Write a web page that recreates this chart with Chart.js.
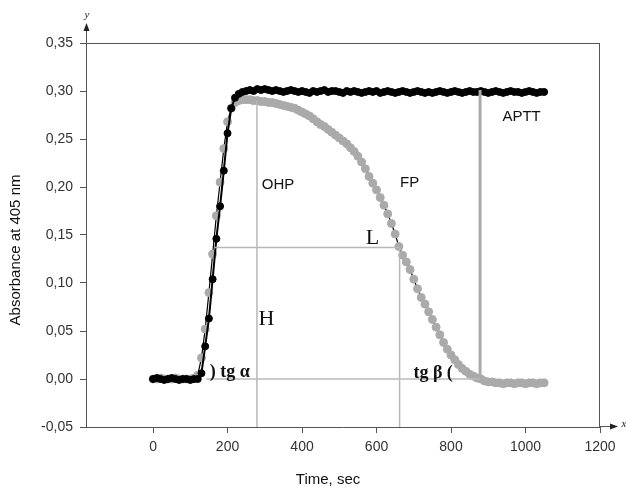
<!DOCTYPE html>
<html>
<head>
<meta charset="utf-8">
<script src="https://cdn.jsdelivr.net/npm/chart.js@4.4.1/dist/chart.umd.min.js"></script>
<style>
  html, body { margin: 0; padding: 0; background: #fff; }
  #chart { display: block; }
</style>
</head>
<body>
<canvas id="chart" width="626" height="488"></canvas>
<script>
// time axis (sec)
const times = [
  0, 10, 20, 30, 40, 50, 60, 70, 80, 90,
  100, 110, 120, 130, 140, 150, 160, 170, 180, 190,
  200, 210, 220, 230, 240, 250, 260, 270, 280, 290,
  300, 310, 320, 330, 340, 350, 360, 370, 380, 390,
  400, 410, 420, 430, 440, 450, 460, 470, 480, 490,
  500, 510, 520, 530, 540, 550, 560, 570, 580, 590,
  600, 610, 620, 630, 640, 650, 660, 670, 680, 690,
  700, 710, 720, 730, 740, 750, 760, 770, 780, 790,
  800, 810, 820, 830, 840, 850, 860, 870, 880, 890,
  900, 910, 920, 930, 940, 950, 960, 970, 980, 990,
  1000, 1010, 1020, 1030, 1040, 1050,
];

// black curve (clotting, APTT)
const apttValues = [
  0.000, 0.001, 0.000, -0.001, 0.000, 0.001, 0.000, -0.001, 0.000, 0.000,
  -0.001, 0.000, 0.000, 0.006, 0.034, 0.063, 0.104, 0.146, 0.180, 0.217,
  0.256, 0.282, 0.293, 0.297, 0.299, 0.300, 0.301, 0.300, 0.302, 0.301,
  0.302, 0.301, 0.300, 0.301, 0.300, 0.299, 0.300, 0.301, 0.300, 0.299,
  0.300, 0.299, 0.298, 0.300, 0.299, 0.300, 0.301, 0.299, 0.300, 0.300,
  0.299, 0.298, 0.300, 0.299, 0.300, 0.299, 0.298, 0.299, 0.300, 0.299,
  0.300, 0.298, 0.299, 0.300, 0.299, 0.298, 0.299, 0.300, 0.299, 0.298,
  0.299, 0.300, 0.299, 0.298, 0.299, 0.298, 0.299, 0.300, 0.299, 0.298,
  0.299, 0.300, 0.299, 0.298, 0.299, 0.300, 0.299, 0.299, 0.300, 0.299,
  0.298, 0.299, 0.300, 0.299, 0.298, 0.299, 0.300, 0.299, 0.299, 0.298,
  0.299, 0.300, 0.299, 0.298, 0.299, 0.299,
];

// grey curve (clotting + fibrinolysis)
const fpValues = [
  0.000, 0.000, 0.001, 0.000, 0.000, 0.000, 0.001, 0.000, 0.000, 0.000,
  0.000, 0.001, 0.004, 0.022, 0.052, 0.090, 0.130, 0.170, 0.205, 0.240,
  0.268, 0.282, 0.288, 0.290, 0.291, 0.291, 0.291, 0.290, 0.290, 0.289,
  0.289, 0.288, 0.288, 0.287, 0.286, 0.285, 0.284, 0.283, 0.282, 0.280,
  0.278, 0.276, 0.274, 0.271, 0.268, 0.265, 0.263, 0.260, 0.257, 0.254,
  0.251, 0.248, 0.245, 0.241, 0.237, 0.232, 0.226, 0.219, 0.211, 0.204,
  0.197, 0.189, 0.181, 0.172, 0.162, 0.151, 0.138, 0.129, 0.122, 0.114,
  0.104, 0.094, 0.085, 0.078, 0.070, 0.062, 0.054, 0.046, 0.038, 0.031,
  0.025, 0.020, 0.015, 0.011, 0.008, 0.005, 0.003, 0.001, 0.000, -0.002,
  -0.003, -0.003, -0.004, -0.004, -0.005, -0.004, -0.004, -0.005, -0.004, -0.004,
  -0.005, -0.004, -0.004, -0.005, -0.004, -0.004,
];

// construction lines: [x0, x1] and [y0, y1]
const ohpLineX = [279, 279];
const ohpLineY = [0.289, -0.05];
const heightLineX = [166, 662];
const heightLineY = [0.137, 0.137];
const fpLineX = [662, 662];
const fpLineY = [0.137, -0.05];
const baseLineX = [143, 878];
const baseLineY = [0, 0];
const apttLineX = [878, 878];
const apttLineY = [0.301, 0];

const xTicks = [0, 200, 400, 600, 800, 1000, 1200];
const yTicks = [-0.05, 0, 0.05, 0.1, 0.15, 0.2, 0.25, 0.3, 0.35];

const noteTexts = ["OHP", "FP", "APTT", "L", "H", ") tg \u03b1", "tg \u03b2 ("];
const noteX = [292, 663, 938, 571, 283, 152, 699];
const noteY = [0.202, 0.204, 0.273, 0.147, 0.062, 0.007, 0.0055];

const sansFont = "'Liberation Sans', Arial, sans-serif";
const serifFont = "'Liberation Serif', 'Times New Roman', serif";
const noteFonts = [
  "15px " + sansFont, "15px " + sansFont, "15px " + sansFont,
  "22px " + serifFont, "22px " + serifFont,
  "bold 18px " + serifFont, "bold 18px " + serifFont,
];

const axisColor = "#555";
const guideColor = "#b8b8b8";

function pairs(xs, ys) {
  return xs.map((x, i) => ({ x: x, y: ys[i] }));
}

function guide(xs, ys, width, color) {
  return {
    data: pairs(xs, ys),
    borderColor: color,
    borderWidth: width,
    pointRadius: 0,
    order: 0,
  };
}

const decorations = {
  id: "decorations",
  afterDatasetsDraw(chart) {
    const ctx = chart.ctx;
    const xs = chart.scales.x;
    const ys = chart.scales.y;
    ctx.save();
    ctx.fillStyle = "#111";
    ctx.textBaseline = "middle";
    ctx.textAlign = "left";
    noteTexts.forEach((text, i) => {
      ctx.font = noteFonts[i];
      ctx.fillText(text, xs.getPixelForValue(noteX[i]), ys.getPixelForValue(noteY[i]));
    });
    ctx.restore();
  },
  afterDraw(chart) {
    const ctx = chart.ctx;
    const area = chart.chartArea;
    ctx.save();
    ctx.strokeStyle = axisColor;
    ctx.fillStyle = "#222";
    ctx.lineWidth = 1;

    // frame top and right
    ctx.beginPath();
    ctx.moveTo(area.left, area.top + 0.5);
    ctx.lineTo(area.right, area.top + 0.5);
    ctx.moveTo(area.right - 0.5, area.top);
    ctx.lineTo(area.right - 0.5, area.bottom);
    ctx.stroke();

    // y arrow
    ctx.beginPath();
    ctx.moveTo(area.left + 0.5, area.top);
    ctx.lineTo(area.left + 0.5, 28);
    ctx.stroke();
    ctx.beginPath();
    ctx.moveTo(area.left + 0.5, 23);
    ctx.lineTo(area.left - 2.5, 31);
    ctx.lineTo(area.left + 3.5, 31);
    ctx.closePath();
    ctx.fill();

    // x arrow
    ctx.beginPath();
    ctx.moveTo(area.right, area.bottom - 0.5);
    ctx.lineTo(612, area.bottom - 0.5);
    ctx.stroke();
    ctx.beginPath();
    ctx.moveTo(618, area.bottom - 0.5);
    ctx.lineTo(610, area.bottom - 3.5);
    ctx.lineTo(610, area.bottom + 2.5);
    ctx.closePath();
    ctx.fill();

    ctx.font = "italic 11px " + serifFont;
    ctx.textAlign = "center";
    ctx.textBaseline = "middle";
    ctx.fillText("y", area.left + 1, 15);
    ctx.fillText("x", 624, area.bottom - 3);

    // axis titles
    ctx.fillStyle = "#111";
    ctx.font = "15px " + sansFont;
    ctx.fillText("Time, sec", 328, 480);
    ctx.translate(16, 250);
    ctx.rotate(-Math.PI / 2);
    ctx.fillText("Absorbance at 405 nm", 0, 0);
    ctx.restore();
  },
};

const axisGrid = {
  display: true,
  drawOnChartArea: false,
  drawTicks: true,
  tickLength: 6,
  color: axisColor,
};

new Chart(document.getElementById("chart"), {
  type: "line",
  data: {
    datasets: [
      guide(ohpLineX, ohpLineY, 1.5, guideColor),
      guide(heightLineX, heightLineY, 1.5, guideColor),
      guide(fpLineX, fpLineY, 1.5, guideColor),
      guide(baseLineX, baseLineY, 1.5, guideColor),
      guide(apttLineX, apttLineY, 3, "#aaaaaa"),
      {
        label: "APTT",
        data: pairs(times, apttValues),
        borderColor: "#000",
        borderWidth: 2,
        pointRadius: 3.5,
        pointBorderWidth: 1,
        pointBackgroundColor: "#000",
        pointBorderColor: "#000",
        order: 1,
      },
      {
        label: "FP",
        data: pairs(times, fpValues),
        borderColor: "#000",
        borderWidth: 1.2,
        pointRadius: 4,
        pointBorderWidth: 1,
        pointBackgroundColor: "#aaaaaa",
        pointBorderColor: "#aaaaaa",
        order: 2,
      },
    ],
  },
  options: {
    responsive: false,
    animation: false,
    devicePixelRatio: 1,
    layout: { padding: { left: 0, top: 43, right: 26, bottom: 0 } },
    plugins: {
      legend: { display: false },
      tooltip: { enabled: false },
    },
    scales: {
      x: {
        type: "linear",
        min: -180,
        max: 1200,
        afterBuildTicks: (scale) => {
          scale.ticks = xTicks.map((v) => ({ value: v }));
        },
        afterFit: (scale) => {
          scale.height = 61;
        },
        ticks: {
          color: "#333",
          font: { family: sansFont, size: 14 },
          padding: 6,
          maxRotation: 0,
          autoSkip: false,
          callback: (value) => String(value),
        },
        grid: axisGrid,
        border: { display: true, color: axisColor, width: 1 },
      },
      y: {
        min: -0.05,
        max: 0.35,
        afterBuildTicks: (scale) => {
          scale.ticks = yTicks.map((v) => ({ value: v }));
        },
        afterFit: (scale) => {
          scale.width = 86;
        },
        ticks: {
          color: "#333",
          font: { family: sansFont, size: 14 },
          padding: 7,
          callback: (value) => value.toFixed(2).replace(".", ","),
        },
        grid: axisGrid,
        border: { display: true, color: axisColor, width: 1 },
      },
    },
  },
  plugins: [decorations],
});
</script>
</body>
</html>
